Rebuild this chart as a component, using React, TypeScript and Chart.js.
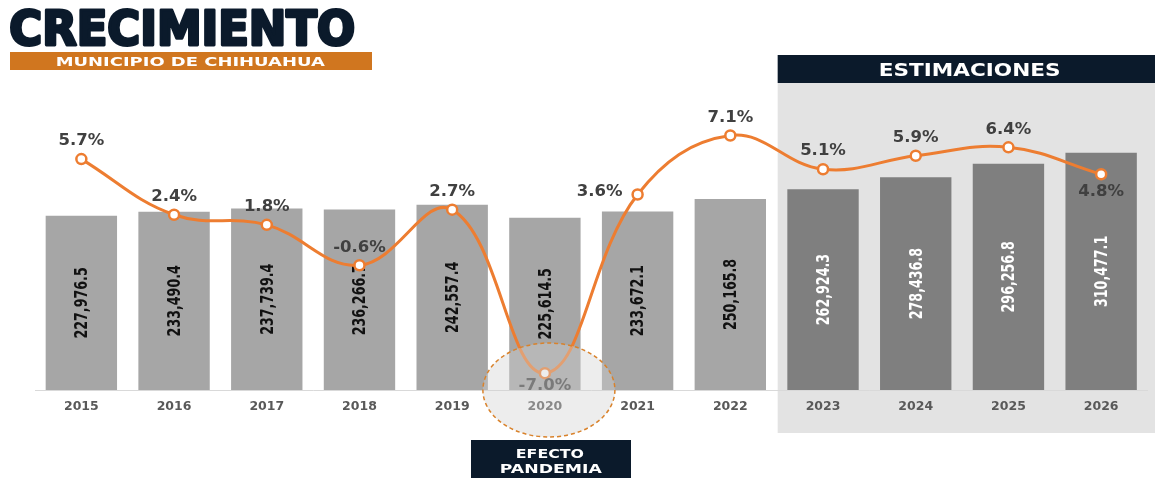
import React, { useEffect, useRef } from "react";
import { Chart, registerables } from "chart.js";

Chart.register(...registerables);

const years = ["2015", "2016", "2017", "2018", "2019", "2020", "2021", "2022", "2023", "2024", "2025", "2026"];
const values = [227976.5, 233490.4, 237739.4, 236266.7, 242557.4, 225614.5, 233672.1, 250165.8, 262924.3, 278436.8, 296256.8, 310477.1];
const growth = [5.7, 2.4, 1.8, -0.6, 2.7, -7.0, 3.6, 7.1, 5.1, 5.9, 6.4, 4.8];
const labelPlacement = ["top", "top", "top", "top", "top", "bottom", "left", "top", "top", "top", "top", "bottom"];
const firstEstimate = 8;
const pandemicIndex = 5;

const NAVY = "#0b1a2b";
const ORANGE = "#ed7d31";

function fitBox(ctx: CanvasRenderingContext2D, text: string, x0: number, y0: number, x1: number, y1: number, font: string, color: string, stroke = 0) {
  ctx.save();
  ctx.font = font;
  ctx.textAlign = "left";
  ctx.textBaseline = "alphabetic";
  const m = ctx.measureText(text);
  const w = m.actualBoundingBoxLeft + m.actualBoundingBoxRight;
  const h = m.actualBoundingBoxAscent + m.actualBoundingBoxDescent;
  const sx = (x1 - x0) / w;
  const sy = (y1 - y0) / h;
  ctx.translate(x0, y0);
  ctx.scale(sx, sy);
  ctx.fillStyle = color;
  ctx.fillText(text, m.actualBoundingBoxLeft, m.actualBoundingBoxAscent);
  if (stroke > 0) {
    ctx.strokeStyle = color;
    ctx.lineWidth = stroke;
    ctx.lineJoin = "round";
    ctx.strokeText(text, m.actualBoundingBoxLeft, m.actualBoundingBoxAscent);
  }
  ctx.restore();
}

const decor = {
  id: "decor",
  beforeDraw(chart: any) {
    const ctx = chart.ctx as CanvasRenderingContext2D;
    const xs = chart.scales.x;
    ctx.save();
    ctx.fillStyle = "#ffffff";
    ctx.fillRect(0, 0, chart.width, chart.height);
    // estimations panel
    const px = (xs.getPixelForValue(firstEstimate - 1) + xs.getPixelForValue(firstEstimate)) / 2 + 1;
    ctx.fillStyle = "#e3e3e3";
    ctx.fillRect(px, 83, chart.width - px, 350);
    ctx.fillStyle = NAVY;
    ctx.fillRect(px, 55, chart.width - px, 28);
    fitBox(ctx, "ESTIMACIONES", 880, 63, 1059, 76, "bold 17px 'DejaVu Sans', sans-serif", "#ffffff");
    // title
    fitBox(ctx, "CRECIMIENTO", 11, 9, 353, 46, "bold 58px 'DejaVu Sans Condensed', 'DejaVu Sans', sans-serif", NAVY, 3.5);
    ctx.fillStyle = "#d0761f";
    ctx.fillRect(10, 52, 362, 18);
    fitBox(ctx, "MUNICIPIO DE CHIHUAHUA", 57, 57, 325, 66, "bold 14px 'DejaVu Sans', sans-serif", "#ffffff");
    ctx.restore();
  },
  afterDatasetDraw(chart: any, args: any) {
    if (args.index !== 0) return;
    const ctx = chart.ctx as CanvasRenderingContext2D;
    const meta = chart.getDatasetMeta(0);
    ctx.save();
    ctx.font = "bold 18.5px 'DejaVu Sans Condensed', 'DejaVu Sans', sans-serif";
    ctx.textAlign = "center";
    ctx.textBaseline = "middle";
    meta.data.forEach((bar: any, i: number) => {
      const txt = values[i].toLocaleString("en-US", { minimumFractionDigits: 1, maximumFractionDigits: 1 });
      const cy = (bar.y + bar.base) / 2;
      ctx.save();
      ctx.translate(bar.x, cy);
      ctx.rotate(-Math.PI / 2);
      ctx.scale(0.76, 1);
      ctx.fillStyle = i >= firstEstimate ? "#ffffff" : "#111111";
      ctx.fillText(txt, 0, 1);
      ctx.restore();
    });
    ctx.restore();
  },
  afterDatasetsDraw(chart: any) {
    const ctx = chart.ctx as CanvasRenderingContext2D;
    const xs = chart.scales.x;
    const area = chart.chartArea;
    ctx.save();
    // percent labels
    const meta = chart.getDatasetMeta(1);
    ctx.font = "bold 16.5px 'DejaVu Sans', sans-serif";
    ctx.fillStyle = "#404040";
    ctx.textBaseline = "middle";
    meta.data.forEach((pt: any, i: number) => {
      const txt = growth[i].toFixed(1) + "%";
      const p = labelPlacement[i];
      let x = pt.x;
      let y = pt.y;
      ctx.textAlign = "center";
      if (p === "top") y -= 18;
      else if (p === "bottom") y += i === pandemicIndex ? 13 : 17;
      else if (p === "left") { x -= 38; y -= 3; }
      ctx.fillText(txt, x, y);
    });
    // pandemic ellipse overlay
    const ex = xs.getPixelForValue(pandemicIndex) + 4;
    ctx.beginPath();
    ctx.ellipse(ex, area.bottom, 66, 47, 0, 0, Math.PI * 2);
    ctx.fillStyle = "rgba(210,210,210,0.4)";
    ctx.fill();
    ctx.setLineDash([4, 3]);
    ctx.strokeStyle = "#d9822b";
    ctx.lineWidth = 1.5;
    ctx.stroke();
    ctx.setLineDash([]);
    // pandemic box
    ctx.fillStyle = NAVY;
    ctx.fillRect(471, 440, 160, 38);
    fitBox(ctx, "EFECTO", 517, 449, 584, 458, "bold 13px 'DejaVu Sans', sans-serif", "#ffffff");
    fitBox(ctx, "PANDEMIA", 501, 464, 602, 473, "bold 14px 'DejaVu Sans', sans-serif", "#ffffff");
    ctx.restore();
  },
};

export default function App() {
  const ref = useRef<HTMLCanvasElement | null>(null);
  useEffect(() => {
    document.body.style.margin = "0";
    if (!ref.current) return;
    const chart = new Chart(ref.current, {
      data: {
        labels: years,
        datasets: [
          {
            type: "bar",
            data: values,
            yAxisID: "y",
            order: 1,
            backgroundColor: values.map((_, i) => (i >= firstEstimate ? "#7f7f7f" : "#a6a6a6")),
            borderWidth: 0,
            barPercentage: 0.77,
            categoryPercentage: 1,
          },
          {
            type: "line",
            data: growth,
            yAxisID: "y2",
            order: 0,
            borderColor: ORANGE,
            borderWidth: 3,
            tension: 0.4,
            pointRadius: 5,
            pointBackgroundColor: "#ffffff",
            pointBorderColor: ORANGE,
            pointBorderWidth: 2.5,
          },
        ],
      } as any,
      options: {
        animation: false,
        responsive: false,
        layout: { padding: { left: 35, right: 0, top: 90, bottom: 55 } },
        plugins: { legend: { display: false }, tooltip: { enabled: false }, title: { display: false } },
        scales: {
          x: {
            grid: { display: false, drawTicks: false },
            border: { display: true, color: "#d9d9d9", width: 1 },
            ticks: { color: "#595959", font: { family: "'DejaVu Sans', sans-serif", weight: "bold", size: 12.5 }, padding: 9 },
          },
          y: { display: false, min: 0, max: 392700 },
          y2: { display: false, min: -8, max: 9.8 },
        },
      } as any,
      plugins: [decor],
    });
    return () => chart.destroy();
  }, []);
  return <canvas ref={ref} width={1155} height={478} style={{ display: "block" }} />;
}
